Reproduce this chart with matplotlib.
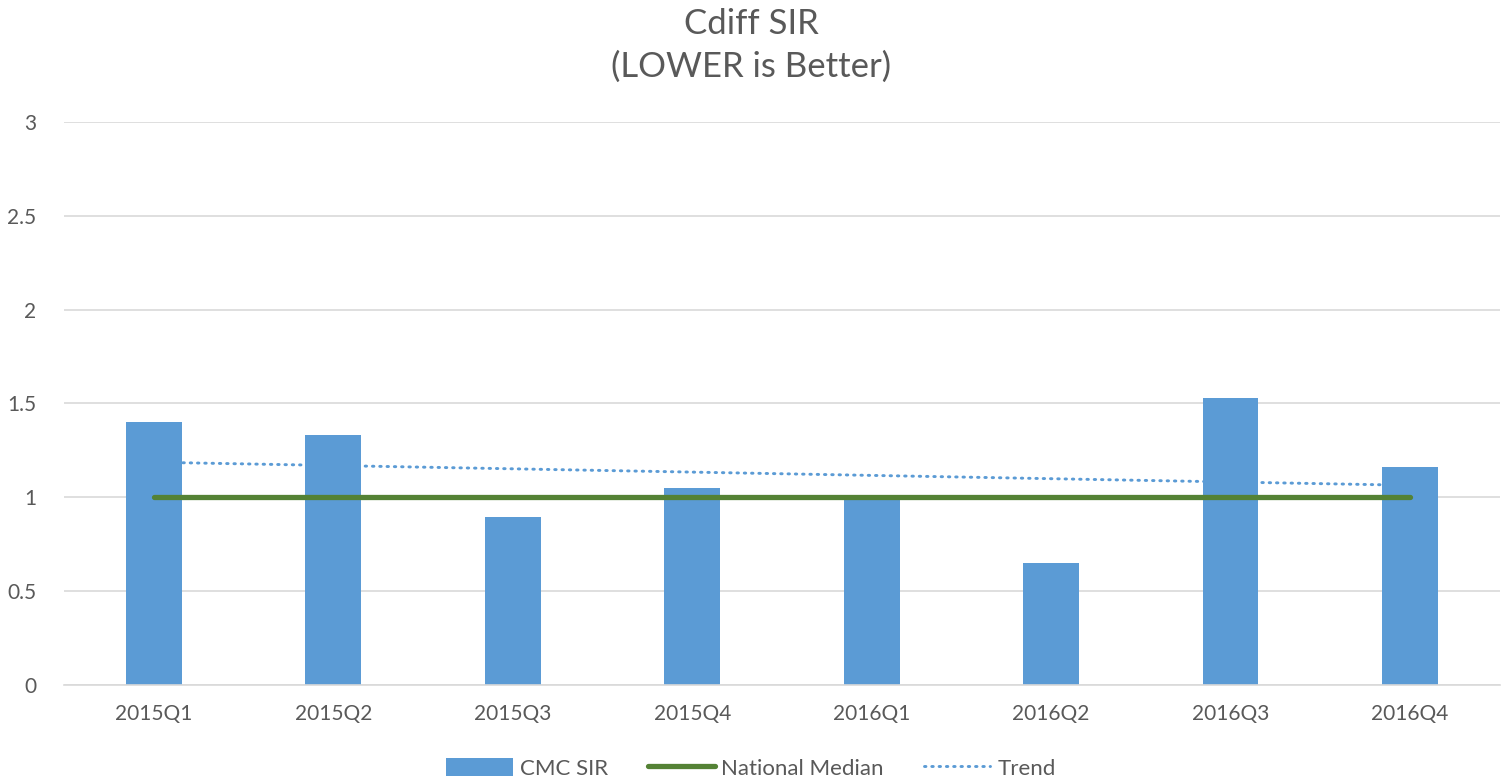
import numpy as np
import matplotlib.pyplot as plt
from matplotlib.lines import Line2D
from matplotlib.patches import Patch

plt.rcParams['font.family'] = ['Lato', 'DejaVu Sans']

quarters = ['2015Q1', '2015Q2', '2015Q3', '2015Q4', '2016Q1', '2016Q2', '2016Q3', '2016Q4']
cmc_sir = [1.40, 1.33, 0.895, 1.05, 0.99, 0.65, 1.53, 1.16]
national_median = [1, 1, 1, 1, 1, 1, 1, 1]

TXT = '#595959'
BLUE = '#5B9BD5'
GREEN = '#548235'

x = np.arange(len(quarters))
# linear trendline, same as the spreadsheet's
slope, icpt = np.polyfit(x, cmc_sir, 1)
trend = slope * x + icpt

fig = plt.figure(figsize=(15.02, 7.8), dpi=100)
ax = fig.add_axes([0.0426, 0.1218, 0.956, 0.7218])

dots = (0, (0.5, 2.0))
ax.bar(x, cmc_sir, width=0.31, color=BLUE, zorder=2)
ax.plot(x, national_median, color=GREEN, lw=3.8, solid_capstyle='round', zorder=3)
ax.plot(x, trend, color=BLUE, lw=2.1, linestyle=dots, dash_capstyle='round', zorder=3)

ax.set_xlim(-0.5, len(quarters) - 0.5)
ax.set_ylim(0, 3)
ax.set_yticks([0, 0.5, 1, 1.5, 2, 2.5, 3])
ax.set_yticklabels(['0', '0.5', '1', '1.5', '2', '2.5', '3'])
ax.set_xticks(x)
ax.set_xticklabels(quarters)
ax.yaxis.grid(True, color='#D9D9D9', lw=1.2, zorder=0)
ax.set_axisbelow(True)
for s in ['top', 'right', 'left']:
    ax.spines[s].set_visible(False)
ax.spines['bottom'].set_color('#D9D9D9')
ax.spines['bottom'].set_linewidth(1.2)
ax.tick_params(axis='both', length=0, labelsize=15, labelcolor=TXT)
ax.tick_params(axis='y', pad=20)
ax.tick_params(axis='x', pad=14)

fig.text(0.5, 0.99, 'Cdiff SIR\n(LOWER is Better)', ha='center', va='top',
         fontsize=25, color=TXT, linespacing=1.4)

handles = [
    Patch(facecolor=BLUE, edgecolor='none'),
    Line2D([], [], color=GREEN, lw=3.8, solid_capstyle='round'),
    Line2D([], [], color=BLUE, lw=2.1, linestyle=dots, dash_capstyle='round'),
]
fig.legend(handles, ['CMC SIR', 'National Median', 'Trend'], loc='lower center',
           bbox_to_anchor=(0.5, -0.024), ncol=3, frameon=False, fontsize=16,
           labelcolor=TXT, handlelength=3.0, handleheight=0.9, columnspacing=1.8,
           handletextpad=0.3)

fig.savefig('out.png', dpi=100)
